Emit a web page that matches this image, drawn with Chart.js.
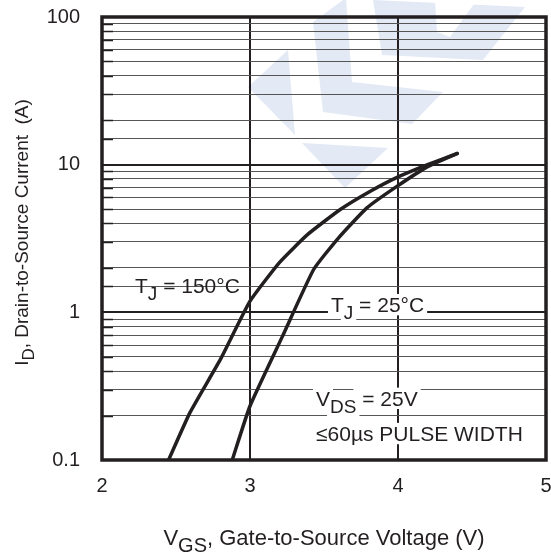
<!DOCTYPE html>
<html>
<head>
<meta charset="utf-8">
<script src="https://cdn.jsdelivr.net/npm/chart.js@4/dist/chart.umd.min.js"></script>
<style>
  html, body { margin: 0; padding: 0; background: #fff; }
  canvas { display: block; }
</style>
</head>
<body>
<canvas id="chart" width="551" height="557"></canvas>
<script>
// 데이터: V_GS (V) 대 I_D (A), 곡선별 배열
const vgs150 = [2.45, 2.595, 2.80, 3.0, 3.2, 3.39, 3.61, 3.81, 3.99, 4.20, 4.40];
const id150 = [0.1, 0.21, 0.48, 1.19, 2.18, 3.37, 4.97, 6.58, 8.17, 10.0, 11.9];
const vgs25 = [2.88, 3.0, 3.22, 3.43, 3.60, 3.79, 3.99, 4.20, 4.40];
const id25 = [0.1, 0.232, 0.69, 1.95, 3.21, 5.1, 7.1, 9.7, 11.9];

const xTicks = [2, 3, 4, 5];
const yDecades = [0.1, 1, 10, 100];

const INK = "#231f20";
const FONT = "'Liberation Sans', Arial, Helvetica, sans-serif";

function isDecade(v) {
  const l = Math.log10(v);
  return Math.abs(l - Math.round(l)) < 1e-6;
}

function toPoints(xs, ys) {
  return xs.map((x, i) => ({ x: x, y: ys[i] }));
}

// 아래첨자 포함 텍스트 그리기
function drawRich(ctx, parts, x, y, size, align, bg) {
  const subSize = Math.round(size * 0.9);
  const subOff = Math.round(size * 0.32);
  const widths = parts.map((p) => {
    ctx.font = (p.sub ? subSize : size) + "px " + FONT;
    return ctx.measureText(p.t).width;
  });
  const total = widths.reduce((a, b) => a + b, 0);
  let cx = align === "center" ? x - total / 2 : x;
  ctx.textBaseline = "alphabetic";
  ctx.textAlign = "left";
  parts.forEach((p, i) => {
    const s = p.sub ? subSize : size;
    const by = p.sub ? y + subOff : y;
    if (bg) {
      ctx.fillStyle = "#fff";
      ctx.fillRect(cx - 3, by - s * 0.78 - 2, widths[i] + 6, s * 0.78 + 5);
    }
    cx += widths[i];
  });
  cx = align === "center" ? x - total / 2 : x;
  parts.forEach((p, i) => {
    ctx.font = (p.sub ? subSize : size) + "px " + FONT;
    ctx.fillStyle = INK;
    ctx.fillText(p.t, cx, p.sub ? y + subOff : y);
    cx += widths[i];
  });
}

// 주석 위치 (데이터 좌표)
const notes = [
  { x: 2.223, y: 1.36, parts: [{ t: "T" }, { t: "J", sub: true }, { t: " = 150°C" }], bg: false },
  { x: 3.547, y: 1.0, parts: [{ t: "T" }, { t: "J", sub: true }, { t: " = 25°C" }], bg: true },
  { x: 3.446, y: 0.232, parts: [{ t: "V" }, { t: "DS", sub: true }, { t: " = 25V" }], bg: true },
  { x: 3.446, y: 0.134, parts: [{ t: "≤60µs PULSE WIDTH" }], bg: true },
];

// 워터마크 (배경 로고)
const watermark = {
  id: "watermark",
  beforeDraw(chart) {
    const ctx = chart.ctx;
    ctx.save();
    ctx.fillStyle = "#fff";
    ctx.fillRect(0, 0, chart.width, chart.height);
    ctx.fillStyle = "#e3e9f5";
    const polys = [
      [[288, 50], [248, 87], [295, 135]],
      [[313, 22], [346, -2], [352, 82], [443, 92], [412, 124], [323, 112]],
      [[373, 0], [525, 7], [483, 60], [382, 55]],
      [[302, 143], [388, 148], [345, 188]],
    ];
    polys.forEach((p) => {
      ctx.beginPath();
      p.forEach((pt, i) => (i ? ctx.lineTo(pt[0], pt[1]) : ctx.moveTo(pt[0], pt[1])));
      ctx.closePath();
      ctx.fill();
    });
    // 안쪽 흰 홈
    ctx.fillStyle = "#fff";
    ctx.beginPath();
    ctx.moveTo(435, 0);
    ctx.lineTo(437, 32);
    ctx.lineTo(450, 37);
    ctx.lineTo(477, 0);
    ctx.closePath();
    ctx.fill();
    ctx.restore();
  },
};

// 테두리와 주석, 축 제목
const decorations = {
  id: "decorations",
  beforeDatasetsDraw(chart) {
    const ctx = chart.ctx;
    const a = chart.chartArea;
    const ys = chart.scales.y;
    ctx.save();
    // 보조 눈금 왼쪽의 짧은 표시
    ctx.strokeStyle = INK;
    ctx.lineWidth = 1.5;
    ys.ticks.forEach((t) => {
      if (isDecade(t.value)) return;
      const py = Math.round(ys.getPixelForValue(t.value)) + 0.5;
      ctx.beginPath();
      ctx.moveTo(a.left, py);
      ctx.lineTo(a.left + 11, py);
      ctx.stroke();
    });
    ctx.lineWidth = 3.5;
    ctx.strokeRect(a.left, a.top, a.right - a.left, a.bottom - a.top);
    ctx.restore();
  },
  afterDatasetsDraw(chart) {
    const ctx = chart.ctx;
    const xs = chart.scales.x;
    const ys = chart.scales.y;
    const a = chart.chartArea;
    ctx.save();
    notes.forEach((n) => {
      drawRich(ctx, n.parts, xs.getPixelForValue(n.x), ys.getPixelForValue(n.y), 21, "left", n.bg);
    });
    // x축 제목
    drawRich(ctx, [{ t: "V" }, { t: "GS", sub: true }, { t: ", Gate-to-Source Voltage (V)" }],
      (a.left + a.right) / 2, 545, 22, "center", false);
    // y축 제목 (세로)
    ctx.translate(28, (a.top + a.bottom) / 2 - 6);
    ctx.rotate(-Math.PI / 2);
    drawRich(ctx, [{ t: "I" }, { t: "D", sub: true }, { t: ", Drain-to-Source Current  (A)" }],
      0, 0, 19, "center", false);
    ctx.restore();
  },
};

// 눈금 라벨이 차트 영역을 밀어내지 않도록
function noOverflow(s) {
  s.paddingLeft = 0;
  s.paddingRight = 0;
  s.paddingTop = 0;
  s.paddingBottom = 0;
}

const chart = new Chart(document.getElementById("chart").getContext("2d"), {
  type: "scatter",
  data: {
    datasets: [
      { label: "TJ = 150°C", data: toPoints(vgs150, id150) },
      { label: "TJ = 25°C", data: toPoints(vgs25, id25) },
    ].map((d) => Object.assign(d, {
      showLine: true,
      borderColor: INK,
      borderWidth: 3.5,
      borderCapStyle: "round",
      borderJoinStyle: "round",
      pointRadius: 0,
      tension: 0.15,
      fill: false,
    })),
  },
  options: {
    responsive: false,
    animation: false,
    devicePixelRatio: 1,
    layout: { padding: { top: 17, right: 5, left: 0, bottom: 0 } },
    plugins: { legend: { display: false }, tooltip: { enabled: false } },
    scales: {
      x: {
        type: "linear",
        min: 2,
        max: 5,
        afterFit: (s) => { s.height = 97; noOverflow(s); },
        afterBuildTicks: (s) => { s.ticks = xTicks.map((v) => ({ value: v })); },
        border: { display: false },
        grid: { drawTicks: false, color: INK, lineWidth: 2 },
        ticks: {
          padding: 14,
          color: INK,
          font: { family: FONT, size: 20 },
          callback: (v) => String(v),
        },
      },
      y: {
        type: "logarithmic",
        min: 0.1,
        max: 100,
        afterFit: (s) => { s.width = 102; noOverflow(s); },
        border: { display: false },
        grid: {
          drawTicks: false,
          color: (c) => (isDecade(c.tick.value) ? INK : "#555555"),
          lineWidth: (c) => (isDecade(c.tick.value) ? 2 : 1),
        },
        ticks: {
          autoSkip: false,
          padding: 22,
          color: INK,
          font: { family: FONT, size: 20 },
          callback: (v) => (isDecade(v) && yDecades.some((d) => Math.abs(d - v) < 1e-9) ? String(v) : ""),
        },
      },
    },
  },
  plugins: [watermark, decorations],
});
</script>
</body>
</html>
